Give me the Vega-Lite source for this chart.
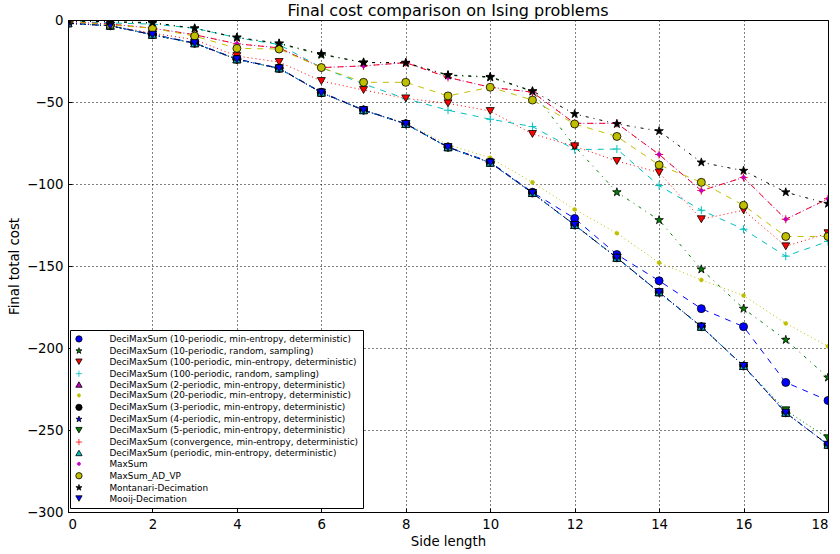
{
"$schema": "https://vega.github.io/schema/vega-lite/v6.json",
"width": 760, "height": 492,
"autosize": {"type": "none"},
"padding": {"left": 68, "top": 20, "right": 12, "bottom": 42},
"background": "white",
"title": {"text": "Final cost comparison on Ising problems", "font": "DejaVu Sans", "fontSize": 16, "fontWeight": "normal", "color": "black", "offset": -6, "anchor": "middle"},
"config": {
  "view": {"stroke": "black", "strokeWidth": 1},
  "axis": {"labelFont": "DejaVu Sans", "labelFontSize": 13.3, "labelColor": "black", "titleFont": "DejaVu Sans", "titleFontSize": 13.3, "titleFontWeight": "normal", "titleColor": "black", "domain": false, "grid": true, "gridColor": "black", "gridDash": [1, 3], "gridOpacity": 1, "gridWidth": 1, "ticks": true, "tickColor": "black", "tickSize": -4, "labelPadding": 9}
},
"data": {"values": [
{"series":"DeciMaxSum (10-periodic, min-entropy, deterministic)","x":0,"y":-2},{"series":"DeciMaxSum (10-periodic, min-entropy, deterministic)","x":1,"y":-3.5},{"series":"DeciMaxSum (10-periodic, min-entropy, deterministic)","x":2,"y":-8.8},{"series":"DeciMaxSum (10-periodic, min-entropy, deterministic)","x":3,"y":-14},{"series":"DeciMaxSum (10-periodic, min-entropy, deterministic)","x":4,"y":-23.8},{"series":"DeciMaxSum (10-periodic, min-entropy, deterministic)","x":5,"y":-29.3},{"series":"DeciMaxSum (10-periodic, min-entropy, deterministic)","x":6,"y":-44},{"series":"DeciMaxSum (10-periodic, min-entropy, deterministic)","x":7,"y":-54.8},{"series":"DeciMaxSum (10-periodic, min-entropy, deterministic)","x":8,"y":-63.2},{"series":"DeciMaxSum (10-periodic, min-entropy, deterministic)","x":9,"y":-77.4},{"series":"DeciMaxSum (10-periodic, min-entropy, deterministic)","x":10,"y":-86.6},{"series":"DeciMaxSum (10-periodic, min-entropy, deterministic)","x":11,"y":-105},{"series":"DeciMaxSum (10-periodic, min-entropy, deterministic)","x":12,"y":-121},{"series":"DeciMaxSum (10-periodic, min-entropy, deterministic)","x":13,"y":-143},{"series":"DeciMaxSum (10-periodic, min-entropy, deterministic)","x":14,"y":-159},{"series":"DeciMaxSum (10-periodic, min-entropy, deterministic)","x":15,"y":-176},{"series":"DeciMaxSum (10-periodic, min-entropy, deterministic)","x":16,"y":-187},{"series":"DeciMaxSum (10-periodic, min-entropy, deterministic)","x":17,"y":-221},{"series":"DeciMaxSum (10-periodic, min-entropy, deterministic)","x":18,"y":-232},
{"series":"DeciMaxSum (10-periodic, random, sampling)","x":0,"y":-0.8},{"series":"DeciMaxSum (10-periodic, random, sampling)","x":1,"y":-1.2},{"series":"DeciMaxSum (10-periodic, random, sampling)","x":2,"y":-2},{"series":"DeciMaxSum (10-periodic, random, sampling)","x":3,"y":-5.2},{"series":"DeciMaxSum (10-periodic, random, sampling)","x":4,"y":-10.8},{"series":"DeciMaxSum (10-periodic, random, sampling)","x":5,"y":-14.5},{"series":"DeciMaxSum (10-periodic, random, sampling)","x":6,"y":-21.2},{"series":"DeciMaxSum (10-periodic, random, sampling)","x":7,"y":-25.8},{"series":"DeciMaxSum (10-periodic, random, sampling)","x":8,"y":-26.3},{"series":"DeciMaxSum (10-periodic, random, sampling)","x":9,"y":-33.8},{"series":"DeciMaxSum (10-periodic, random, sampling)","x":10,"y":-35},{"series":"DeciMaxSum (10-periodic, random, sampling)","x":11,"y":-43.6},{"series":"DeciMaxSum (10-periodic, random, sampling)","x":12,"y":-77},{"series":"DeciMaxSum (10-periodic, random, sampling)","x":13,"y":-105},{"series":"DeciMaxSum (10-periodic, random, sampling)","x":14,"y":-122},{"series":"DeciMaxSum (10-periodic, random, sampling)","x":15,"y":-152},{"series":"DeciMaxSum (10-periodic, random, sampling)","x":16,"y":-176},{"series":"DeciMaxSum (10-periodic, random, sampling)","x":17,"y":-195},{"series":"DeciMaxSum (10-periodic, random, sampling)","x":18,"y":-218},
{"series":"DeciMaxSum (100-periodic, min-entropy, deterministic)","x":0,"y":-1.5},{"series":"DeciMaxSum (100-periodic, min-entropy, deterministic)","x":1,"y":-3.5},{"series":"DeciMaxSum (100-periodic, min-entropy, deterministic)","x":2,"y":-8},{"series":"DeciMaxSum (100-periodic, min-entropy, deterministic)","x":3,"y":-12},{"series":"DeciMaxSum (100-periodic, min-entropy, deterministic)","x":4,"y":-22},{"series":"DeciMaxSum (100-periodic, min-entropy, deterministic)","x":5,"y":-25.6},{"series":"DeciMaxSum (100-periodic, min-entropy, deterministic)","x":6,"y":-37.2},{"series":"DeciMaxSum (100-periodic, min-entropy, deterministic)","x":7,"y":-42.7},{"series":"DeciMaxSum (100-periodic, min-entropy, deterministic)","x":8,"y":-47.8},{"series":"DeciMaxSum (100-periodic, min-entropy, deterministic)","x":9,"y":-50.8},{"series":"DeciMaxSum (100-periodic, min-entropy, deterministic)","x":10,"y":-55.5},{"series":"DeciMaxSum (100-periodic, min-entropy, deterministic)","x":11,"y":-69.5},{"series":"DeciMaxSum (100-periodic, min-entropy, deterministic)","x":12,"y":-77},{"series":"DeciMaxSum (100-periodic, min-entropy, deterministic)","x":13,"y":-86},{"series":"DeciMaxSum (100-periodic, min-entropy, deterministic)","x":14,"y":-93},{"series":"DeciMaxSum (100-periodic, min-entropy, deterministic)","x":15,"y":-121.5},{"series":"DeciMaxSum (100-periodic, min-entropy, deterministic)","x":16,"y":-116},{"series":"DeciMaxSum (100-periodic, min-entropy, deterministic)","x":17,"y":-138},{"series":"DeciMaxSum (100-periodic, min-entropy, deterministic)","x":18,"y":-130},
{"series":"DeciMaxSum (100-periodic, random, sampling)","x":0,"y":-0.8},{"series":"DeciMaxSum (100-periodic, random, sampling)","x":1,"y":-1.8},{"series":"DeciMaxSum (100-periodic, random, sampling)","x":2,"y":-2.5},{"series":"DeciMaxSum (100-periodic, random, sampling)","x":3,"y":-5},{"series":"DeciMaxSum (100-periodic, random, sampling)","x":4,"y":-10.8},{"series":"DeciMaxSum (100-periodic, random, sampling)","x":5,"y":-15},{"series":"DeciMaxSum (100-periodic, random, sampling)","x":6,"y":-29},{"series":"DeciMaxSum (100-periodic, random, sampling)","x":7,"y":-39},{"series":"DeciMaxSum (100-periodic, random, sampling)","x":8,"y":-48},{"series":"DeciMaxSum (100-periodic, random, sampling)","x":9,"y":-55},{"series":"DeciMaxSum (100-periodic, random, sampling)","x":10,"y":-60.5},{"series":"DeciMaxSum (100-periodic, random, sampling)","x":11,"y":-65},{"series":"DeciMaxSum (100-periodic, random, sampling)","x":12,"y":-79},{"series":"DeciMaxSum (100-periodic, random, sampling)","x":13,"y":-78.7},{"series":"DeciMaxSum (100-periodic, random, sampling)","x":14,"y":-101},{"series":"DeciMaxSum (100-periodic, random, sampling)","x":15,"y":-116},{"series":"DeciMaxSum (100-periodic, random, sampling)","x":16,"y":-127.6},{"series":"DeciMaxSum (100-periodic, random, sampling)","x":17,"y":-144},{"series":"DeciMaxSum (100-periodic, random, sampling)","x":18,"y":-135},
{"series":"DeciMaxSum (2-periodic, min-entropy, deterministic)","x":0,"y":-2},{"series":"DeciMaxSum (2-periodic, min-entropy, deterministic)","x":1,"y":-3.5},{"series":"DeciMaxSum (2-periodic, min-entropy, deterministic)","x":2,"y":-9},{"series":"DeciMaxSum (2-periodic, min-entropy, deterministic)","x":3,"y":-14.2},{"series":"DeciMaxSum (2-periodic, min-entropy, deterministic)","x":4,"y":-24},{"series":"DeciMaxSum (2-periodic, min-entropy, deterministic)","x":5,"y":-29.5},{"series":"DeciMaxSum (2-periodic, min-entropy, deterministic)","x":6,"y":-44.3},{"series":"DeciMaxSum (2-periodic, min-entropy, deterministic)","x":7,"y":-55},{"series":"DeciMaxSum (2-periodic, min-entropy, deterministic)","x":8,"y":-63.4},{"series":"DeciMaxSum (2-periodic, min-entropy, deterministic)","x":9,"y":-77.6},{"series":"DeciMaxSum (2-periodic, min-entropy, deterministic)","x":10,"y":-87},{"series":"DeciMaxSum (2-periodic, min-entropy, deterministic)","x":11,"y":-105.5},{"series":"DeciMaxSum (2-periodic, min-entropy, deterministic)","x":12,"y":-125},{"series":"DeciMaxSum (2-periodic, min-entropy, deterministic)","x":13,"y":-145},{"series":"DeciMaxSum (2-periodic, min-entropy, deterministic)","x":14,"y":-166},{"series":"DeciMaxSum (2-periodic, min-entropy, deterministic)","x":15,"y":-187},{"series":"DeciMaxSum (2-periodic, min-entropy, deterministic)","x":16,"y":-211},{"series":"DeciMaxSum (2-periodic, min-entropy, deterministic)","x":17,"y":-239.5},{"series":"DeciMaxSum (2-periodic, min-entropy, deterministic)","x":18,"y":-259},
{"series":"DeciMaxSum (20-periodic, min-entropy, deterministic)","x":0,"y":-2},{"series":"DeciMaxSum (20-periodic, min-entropy, deterministic)","x":1,"y":-3.5},{"series":"DeciMaxSum (20-periodic, min-entropy, deterministic)","x":2,"y":-9},{"series":"DeciMaxSum (20-periodic, min-entropy, deterministic)","x":3,"y":-14.2},{"series":"DeciMaxSum (20-periodic, min-entropy, deterministic)","x":4,"y":-24},{"series":"DeciMaxSum (20-periodic, min-entropy, deterministic)","x":5,"y":-29.5},{"series":"DeciMaxSum (20-periodic, min-entropy, deterministic)","x":6,"y":-44.3},{"series":"DeciMaxSum (20-periodic, min-entropy, deterministic)","x":7,"y":-55},{"series":"DeciMaxSum (20-periodic, min-entropy, deterministic)","x":8,"y":-63},{"series":"DeciMaxSum (20-periodic, min-entropy, deterministic)","x":9,"y":-76},{"series":"DeciMaxSum (20-periodic, min-entropy, deterministic)","x":10,"y":-84},{"series":"DeciMaxSum (20-periodic, min-entropy, deterministic)","x":11,"y":-99},{"series":"DeciMaxSum (20-periodic, min-entropy, deterministic)","x":12,"y":-115.5},{"series":"DeciMaxSum (20-periodic, min-entropy, deterministic)","x":13,"y":-130},{"series":"DeciMaxSum (20-periodic, min-entropy, deterministic)","x":14,"y":-148},{"series":"DeciMaxSum (20-periodic, min-entropy, deterministic)","x":15,"y":-158.5},{"series":"DeciMaxSum (20-periodic, min-entropy, deterministic)","x":16,"y":-168},{"series":"DeciMaxSum (20-periodic, min-entropy, deterministic)","x":17,"y":-185},{"series":"DeciMaxSum (20-periodic, min-entropy, deterministic)","x":18,"y":-199},
{"series":"DeciMaxSum (3-periodic, min-entropy, deterministic)","x":0,"y":-2},{"series":"DeciMaxSum (3-periodic, min-entropy, deterministic)","x":1,"y":-3.5},{"series":"DeciMaxSum (3-periodic, min-entropy, deterministic)","x":2,"y":-9},{"series":"DeciMaxSum (3-periodic, min-entropy, deterministic)","x":3,"y":-14.2},{"series":"DeciMaxSum (3-periodic, min-entropy, deterministic)","x":4,"y":-24},{"series":"DeciMaxSum (3-periodic, min-entropy, deterministic)","x":5,"y":-29.5},{"series":"DeciMaxSum (3-periodic, min-entropy, deterministic)","x":6,"y":-44.3},{"series":"DeciMaxSum (3-periodic, min-entropy, deterministic)","x":7,"y":-55},{"series":"DeciMaxSum (3-periodic, min-entropy, deterministic)","x":8,"y":-63.4},{"series":"DeciMaxSum (3-periodic, min-entropy, deterministic)","x":9,"y":-77.6},{"series":"DeciMaxSum (3-periodic, min-entropy, deterministic)","x":10,"y":-87},{"series":"DeciMaxSum (3-periodic, min-entropy, deterministic)","x":11,"y":-105.5},{"series":"DeciMaxSum (3-periodic, min-entropy, deterministic)","x":12,"y":-125},{"series":"DeciMaxSum (3-periodic, min-entropy, deterministic)","x":13,"y":-145},{"series":"DeciMaxSum (3-periodic, min-entropy, deterministic)","x":14,"y":-166},{"series":"DeciMaxSum (3-periodic, min-entropy, deterministic)","x":15,"y":-187},{"series":"DeciMaxSum (3-periodic, min-entropy, deterministic)","x":16,"y":-211},{"series":"DeciMaxSum (3-periodic, min-entropy, deterministic)","x":17,"y":-239.5},{"series":"DeciMaxSum (3-periodic, min-entropy, deterministic)","x":18,"y":-259},
{"series":"DeciMaxSum (4-periodic, min-entropy, deterministic)","x":0,"y":-2},{"series":"DeciMaxSum (4-periodic, min-entropy, deterministic)","x":1,"y":-3.5},{"series":"DeciMaxSum (4-periodic, min-entropy, deterministic)","x":2,"y":-9},{"series":"DeciMaxSum (4-periodic, min-entropy, deterministic)","x":3,"y":-14.2},{"series":"DeciMaxSum (4-periodic, min-entropy, deterministic)","x":4,"y":-24},{"series":"DeciMaxSum (4-periodic, min-entropy, deterministic)","x":5,"y":-29.5},{"series":"DeciMaxSum (4-periodic, min-entropy, deterministic)","x":6,"y":-44.3},{"series":"DeciMaxSum (4-periodic, min-entropy, deterministic)","x":7,"y":-55},{"series":"DeciMaxSum (4-periodic, min-entropy, deterministic)","x":8,"y":-63.4},{"series":"DeciMaxSum (4-periodic, min-entropy, deterministic)","x":9,"y":-77.6},{"series":"DeciMaxSum (4-periodic, min-entropy, deterministic)","x":10,"y":-87},{"series":"DeciMaxSum (4-periodic, min-entropy, deterministic)","x":11,"y":-105.5},{"series":"DeciMaxSum (4-periodic, min-entropy, deterministic)","x":12,"y":-125},{"series":"DeciMaxSum (4-periodic, min-entropy, deterministic)","x":13,"y":-145},{"series":"DeciMaxSum (4-periodic, min-entropy, deterministic)","x":14,"y":-166},{"series":"DeciMaxSum (4-periodic, min-entropy, deterministic)","x":15,"y":-187},{"series":"DeciMaxSum (4-periodic, min-entropy, deterministic)","x":16,"y":-211},{"series":"DeciMaxSum (4-periodic, min-entropy, deterministic)","x":17,"y":-239.5},{"series":"DeciMaxSum (4-periodic, min-entropy, deterministic)","x":18,"y":-259},
{"series":"DeciMaxSum (5-periodic, min-entropy, deterministic)","x":0,"y":-2},{"series":"DeciMaxSum (5-periodic, min-entropy, deterministic)","x":1,"y":-3.5},{"series":"DeciMaxSum (5-periodic, min-entropy, deterministic)","x":2,"y":-9},{"series":"DeciMaxSum (5-periodic, min-entropy, deterministic)","x":3,"y":-14.2},{"series":"DeciMaxSum (5-periodic, min-entropy, deterministic)","x":4,"y":-24},{"series":"DeciMaxSum (5-periodic, min-entropy, deterministic)","x":5,"y":-29.5},{"series":"DeciMaxSum (5-periodic, min-entropy, deterministic)","x":6,"y":-44.3},{"series":"DeciMaxSum (5-periodic, min-entropy, deterministic)","x":7,"y":-55},{"series":"DeciMaxSum (5-periodic, min-entropy, deterministic)","x":8,"y":-63.4},{"series":"DeciMaxSum (5-periodic, min-entropy, deterministic)","x":9,"y":-77.6},{"series":"DeciMaxSum (5-periodic, min-entropy, deterministic)","x":10,"y":-87},{"series":"DeciMaxSum (5-periodic, min-entropy, deterministic)","x":11,"y":-105.5},{"series":"DeciMaxSum (5-periodic, min-entropy, deterministic)","x":12,"y":-125},{"series":"DeciMaxSum (5-periodic, min-entropy, deterministic)","x":13,"y":-145},{"series":"DeciMaxSum (5-periodic, min-entropy, deterministic)","x":14,"y":-166},{"series":"DeciMaxSum (5-periodic, min-entropy, deterministic)","x":15,"y":-187},{"series":"DeciMaxSum (5-periodic, min-entropy, deterministic)","x":16,"y":-211},{"series":"DeciMaxSum (5-periodic, min-entropy, deterministic)","x":17,"y":-238},{"series":"DeciMaxSum (5-periodic, min-entropy, deterministic)","x":18,"y":-255},
{"series":"DeciMaxSum (convergence, min-entropy, deterministic)","x":0,"y":-1},{"series":"DeciMaxSum (convergence, min-entropy, deterministic)","x":1,"y":-2.5},{"series":"DeciMaxSum (convergence, min-entropy, deterministic)","x":2,"y":-5},{"series":"DeciMaxSum (convergence, min-entropy, deterministic)","x":3,"y":-9},{"series":"DeciMaxSum (convergence, min-entropy, deterministic)","x":4,"y":-14.5},{"series":"DeciMaxSum (convergence, min-entropy, deterministic)","x":5,"y":-17},{"series":"DeciMaxSum (convergence, min-entropy, deterministic)","x":6,"y":-29},{"series":"DeciMaxSum (convergence, min-entropy, deterministic)","x":7,"y":-28},{"series":"DeciMaxSum (convergence, min-entropy, deterministic)","x":8,"y":-26},{"series":"DeciMaxSum (convergence, min-entropy, deterministic)","x":9,"y":-35},{"series":"DeciMaxSum (convergence, min-entropy, deterministic)","x":10,"y":-41},{"series":"DeciMaxSum (convergence, min-entropy, deterministic)","x":11,"y":-44},{"series":"DeciMaxSum (convergence, min-entropy, deterministic)","x":12,"y":-63},{"series":"DeciMaxSum (convergence, min-entropy, deterministic)","x":13,"y":-63},{"series":"DeciMaxSum (convergence, min-entropy, deterministic)","x":14,"y":-82},{"series":"DeciMaxSum (convergence, min-entropy, deterministic)","x":15,"y":-104},{"series":"DeciMaxSum (convergence, min-entropy, deterministic)","x":16,"y":-96},{"series":"DeciMaxSum (convergence, min-entropy, deterministic)","x":17,"y":-121.5},{"series":"DeciMaxSum (convergence, min-entropy, deterministic)","x":18,"y":-109},
{"series":"DeciMaxSum (periodic, min-entropy, deterministic)","x":0,"y":-2},{"series":"DeciMaxSum (periodic, min-entropy, deterministic)","x":1,"y":-3.5},{"series":"DeciMaxSum (periodic, min-entropy, deterministic)","x":2,"y":-9},{"series":"DeciMaxSum (periodic, min-entropy, deterministic)","x":3,"y":-14.2},{"series":"DeciMaxSum (periodic, min-entropy, deterministic)","x":4,"y":-24},{"series":"DeciMaxSum (periodic, min-entropy, deterministic)","x":5,"y":-29.5},{"series":"DeciMaxSum (periodic, min-entropy, deterministic)","x":6,"y":-44.3},{"series":"DeciMaxSum (periodic, min-entropy, deterministic)","x":7,"y":-55},{"series":"DeciMaxSum (periodic, min-entropy, deterministic)","x":8,"y":-63.4},{"series":"DeciMaxSum (periodic, min-entropy, deterministic)","x":9,"y":-77.6},{"series":"DeciMaxSum (periodic, min-entropy, deterministic)","x":10,"y":-87},{"series":"DeciMaxSum (periodic, min-entropy, deterministic)","x":11,"y":-105.5},{"series":"DeciMaxSum (periodic, min-entropy, deterministic)","x":12,"y":-125},{"series":"DeciMaxSum (periodic, min-entropy, deterministic)","x":13,"y":-145},{"series":"DeciMaxSum (periodic, min-entropy, deterministic)","x":14,"y":-166},{"series":"DeciMaxSum (periodic, min-entropy, deterministic)","x":15,"y":-187},{"series":"DeciMaxSum (periodic, min-entropy, deterministic)","x":16,"y":-211},{"series":"DeciMaxSum (periodic, min-entropy, deterministic)","x":17,"y":-239.5},{"series":"DeciMaxSum (periodic, min-entropy, deterministic)","x":18,"y":-259},
{"series":"MaxSum","x":0,"y":-1},{"series":"MaxSum","x":1,"y":-2.5},{"series":"MaxSum","x":2,"y":-5},{"series":"MaxSum","x":3,"y":-9},{"series":"MaxSum","x":4,"y":-14.5},{"series":"MaxSum","x":5,"y":-17},{"series":"MaxSum","x":6,"y":-29},{"series":"MaxSum","x":7,"y":-28},{"series":"MaxSum","x":8,"y":-26},{"series":"MaxSum","x":9,"y":-35},{"series":"MaxSum","x":10,"y":-41},{"series":"MaxSum","x":11,"y":-44},{"series":"MaxSum","x":12,"y":-63},{"series":"MaxSum","x":13,"y":-63},{"series":"MaxSum","x":14,"y":-82},{"series":"MaxSum","x":15,"y":-104},{"series":"MaxSum","x":16,"y":-96},{"series":"MaxSum","x":17,"y":-121.5},{"series":"MaxSum","x":18,"y":-109},
{"series":"MaxSum_AD_VP","x":0,"y":-1},{"series":"MaxSum_AD_VP","x":1,"y":-3},{"series":"MaxSum_AD_VP","x":2,"y":-5},{"series":"MaxSum_AD_VP","x":3,"y":-9.8},{"series":"MaxSum_AD_VP","x":4,"y":-17.3},{"series":"MaxSum_AD_VP","x":5,"y":-17.7},{"series":"MaxSum_AD_VP","x":6,"y":-29},{"series":"MaxSum_AD_VP","x":7,"y":-38},{"series":"MaxSum_AD_VP","x":8,"y":-38},{"series":"MaxSum_AD_VP","x":9,"y":-46.3},{"series":"MaxSum_AD_VP","x":10,"y":-41},{"series":"MaxSum_AD_VP","x":11,"y":-48.8},{"series":"MaxSum_AD_VP","x":12,"y":-63.4},{"series":"MaxSum_AD_VP","x":13,"y":-71},{"series":"MaxSum_AD_VP","x":14,"y":-88.4},{"series":"MaxSum_AD_VP","x":15,"y":-99},{"series":"MaxSum_AD_VP","x":16,"y":-113},{"series":"MaxSum_AD_VP","x":17,"y":-132},{"series":"MaxSum_AD_VP","x":18,"y":-132},
{"series":"Montanari-Decimation","x":0,"y":-0.6},{"series":"Montanari-Decimation","x":1,"y":-1},{"series":"Montanari-Decimation","x":2,"y":-1.6},{"series":"Montanari-Decimation","x":3,"y":-5},{"series":"Montanari-Decimation","x":4,"y":-10.6},{"series":"Montanari-Decimation","x":5,"y":-14.2},{"series":"Montanari-Decimation","x":6,"y":-20.7},{"series":"Montanari-Decimation","x":7,"y":-26},{"series":"Montanari-Decimation","x":8,"y":-26},{"series":"Montanari-Decimation","x":9,"y":-33.5},{"series":"Montanari-Decimation","x":10,"y":-34.6},{"series":"Montanari-Decimation","x":11,"y":-43.3},{"series":"Montanari-Decimation","x":12,"y":-57.3},{"series":"Montanari-Decimation","x":13,"y":-63.4},{"series":"Montanari-Decimation","x":14,"y":-67.7},{"series":"Montanari-Decimation","x":15,"y":-86.8},{"series":"Montanari-Decimation","x":16,"y":-91.9},{"series":"Montanari-Decimation","x":17,"y":-105},{"series":"Montanari-Decimation","x":18,"y":-112},
{"series":"Mooij-Decimation","x":0,"y":-2},{"series":"Mooij-Decimation","x":1,"y":-3.5},{"series":"Mooij-Decimation","x":2,"y":-9},{"series":"Mooij-Decimation","x":3,"y":-14.2},{"series":"Mooij-Decimation","x":4,"y":-24},{"series":"Mooij-Decimation","x":5,"y":-29.5},{"series":"Mooij-Decimation","x":6,"y":-44.3},{"series":"Mooij-Decimation","x":7,"y":-55},{"series":"Mooij-Decimation","x":8,"y":-63.4},{"series":"Mooij-Decimation","x":9,"y":-77.6},{"series":"Mooij-Decimation","x":10,"y":-87},{"series":"Mooij-Decimation","x":11,"y":-105.5},{"series":"Mooij-Decimation","x":12,"y":-125},{"series":"Mooij-Decimation","x":13,"y":-145},{"series":"Mooij-Decimation","x":14,"y":-166},{"series":"Mooij-Decimation","x":15,"y":-187},{"series":"Mooij-Decimation","x":16,"y":-211},{"series":"Mooij-Decimation","x":17,"y":-239.5},{"series":"Mooij-Decimation","x":18,"y":-259}
]},
"encoding": {
  "x": {"field": "x", "type": "quantitative", "scale": {"domain": [0, 18], "nice": false, "zero": false}, "axis": {"values": [0, 2, 4, 6, 8, 10, 12, 14, 16, 18], "title": "Side length", "titlePadding": 4}},
  "y": {"field": "y", "type": "quantitative", "scale": {"domain": [-300, 0], "nice": false}, "axis": {"values": [-300, -250, -200, -150, -100, -50, 0], "title": "Final total cost", "titlePadding": 5}}
},
"layer": [
  {"mark": {"type": "line", "strokeWidth": 1, "clip": true},
   "encoding": {
     "color": {"field": "series", "type": "nominal", "legend": null, "scale": {"range": ["#0000ff","#008000","#ff0000","#00bfbf","#bf00bf","#bfbf00","#000000","#0000ff","#008000","#ff0000","#00bfbf","#bf00bf","#bfbf00","#000000","#0000ff"]}},
     "strokeDash": {"field": "series", "type": "nominal", "legend": null, "scale": {"range": [[6,6],[3,5,1,5],[1,3],[6,6],[3,5,1,5],[1,3],[6,6],[3,5,1,5],[1,3],[6,6],[3,5,1,5],[1,3],[6,6],[3,5,1,5],[1,3]]}}
   }},
  {"transform": [{"filter": {"field": "series", "oneOf": ["DeciMaxSum (10-periodic, random, sampling)", "DeciMaxSum (4-periodic, min-entropy, deterministic)"]}}],
   "mark": {"type": "point", "filled": true, "opacity": 1, "strokeWidth": 0.8, "size": 80, "clip": true},
   "encoding": {
     "fill": {"field": "series", "type": "nominal", "scale": {"domain": ["DeciMaxSum (10-periodic, min-entropy, deterministic)","DeciMaxSum (10-periodic, random, sampling)","DeciMaxSum (100-periodic, min-entropy, deterministic)","DeciMaxSum (100-periodic, random, sampling)","DeciMaxSum (2-periodic, min-entropy, deterministic)","DeciMaxSum (20-periodic, min-entropy, deterministic)","DeciMaxSum (3-periodic, min-entropy, deterministic)","DeciMaxSum (4-periodic, min-entropy, deterministic)","DeciMaxSum (5-periodic, min-entropy, deterministic)","DeciMaxSum (convergence, min-entropy, deterministic)","DeciMaxSum (periodic, min-entropy, deterministic)","MaxSum","MaxSum_AD_VP","Montanari-Decimation","Mooij-Decimation"], "range": ["#0000ff","#008000","#ff0000","#00bfbf","#bf00bf","#bfbf00","#000000","#0000ff","#008000","#ff0000","#00bfbf","#bf00bf","#bfbf00","#000000","#0000ff"]},
       "legend": {"title": null, "orient": "none", "legendX": 2, "legendY": 310, "fillColor": "white", "strokeColor": "black", "padding": 4.5, "cornerRadius": 0, "labelFont": "DejaVu Sans", "labelFontSize": 8.9, "labelColor": "black", "labelLimit": 400, "symbolSize": 40, "symbolStrokeWidth": 0.8, "labelOffset": 26, "rowPadding": 0.9}},
     "shape": {"field": "series", "type": "nominal", "scale": {"domain": ["DeciMaxSum (10-periodic, min-entropy, deterministic)","DeciMaxSum (10-periodic, random, sampling)","DeciMaxSum (100-periodic, min-entropy, deterministic)","DeciMaxSum (100-periodic, random, sampling)","DeciMaxSum (2-periodic, min-entropy, deterministic)","DeciMaxSum (20-periodic, min-entropy, deterministic)","DeciMaxSum (3-periodic, min-entropy, deterministic)","DeciMaxSum (4-periodic, min-entropy, deterministic)","DeciMaxSum (5-periodic, min-entropy, deterministic)","DeciMaxSum (convergence, min-entropy, deterministic)","DeciMaxSum (periodic, min-entropy, deterministic)","MaxSum","MaxSum_AD_VP","Montanari-Decimation","Mooij-Decimation"], "range": ["circle","M0,-1L0.2245,-0.309L0.951,-0.309L0.363,0.118L0.588,0.809L0,0.382L-0.588,0.809L-0.363,0.118L-0.951,-0.309L-0.2245,-0.309Z","triangle-down","M-1,0L1,0M0,-1L0,1","triangle-up","M-0.5,0A0.5,0.5 0 1,0 0.5,0A0.5,0.5 0 1,0 -0.5,0Z","circle","M0,-1L0.2245,-0.309L0.951,-0.309L0.363,0.118L0.588,0.809L0,0.382L-0.588,0.809L-0.363,0.118L-0.951,-0.309L-0.2245,-0.309Z","triangle-down","M-1,0L1,0M0,-1L0,1","triangle-up","M-0.5,0A0.5,0.5 0 1,0 0.5,0A0.5,0.5 0 1,0 -0.5,0Z","circle","M0,-1L0.2245,-0.309L0.951,-0.309L0.363,0.118L0.588,0.809L0,0.382L-0.588,0.809L-0.363,0.118L-0.951,-0.309L-0.2245,-0.309Z","triangle-down"]}},
     "stroke": {"field": "series", "type": "nominal", "scale": {"domain": ["DeciMaxSum (10-periodic, min-entropy, deterministic)","DeciMaxSum (10-periodic, random, sampling)","DeciMaxSum (100-periodic, min-entropy, deterministic)","DeciMaxSum (100-periodic, random, sampling)","DeciMaxSum (2-periodic, min-entropy, deterministic)","DeciMaxSum (20-periodic, min-entropy, deterministic)","DeciMaxSum (3-periodic, min-entropy, deterministic)","DeciMaxSum (4-periodic, min-entropy, deterministic)","DeciMaxSum (5-periodic, min-entropy, deterministic)","DeciMaxSum (convergence, min-entropy, deterministic)","DeciMaxSum (periodic, min-entropy, deterministic)","MaxSum","MaxSum_AD_VP","Montanari-Decimation","Mooij-Decimation"], "range": ["#000000","#000000","#000000","#00bfbf","#000000","#bfbf00","#000000","#000000","#000000","#ff0000","#000000","#bf00bf","#000000","#000000","#000000"]}}
   }},
  {"transform": [{"filter": {"field": "series", "oneOf": ["DeciMaxSum (100-periodic, random, sampling)", "DeciMaxSum (convergence, min-entropy, deterministic)"]}}],
   "mark": {"type": "point", "filled": true, "opacity": 1, "strokeWidth": 1, "size": 64, "clip": true},
   "encoding": {
     "fill": {"field": "series", "type": "nominal"},
     "shape": {"field": "series", "type": "nominal"},
     "stroke": {"field": "series", "type": "nominal"}
   }},
  {"transform": [{"filter": {"field": "series", "oneOf": ["DeciMaxSum (20-periodic, min-entropy, deterministic)", "MaxSum"]}}],
   "mark": {"type": "point", "filled": true, "opacity": 1, "strokeWidth": 0.5, "size": 64, "clip": true},
   "encoding": {
     "fill": {"field": "series", "type": "nominal"},
     "shape": {"field": "series", "type": "nominal"},
     "stroke": {"field": "series", "type": "nominal"}
   }},
  {"transform": [{"filter": {"field": "series", "oneOf": ["DeciMaxSum (10-periodic, min-entropy, deterministic)", "DeciMaxSum (100-periodic, min-entropy, deterministic)", "DeciMaxSum (2-periodic, min-entropy, deterministic)", "DeciMaxSum (3-periodic, min-entropy, deterministic)", "DeciMaxSum (5-periodic, min-entropy, deterministic)", "DeciMaxSum (periodic, min-entropy, deterministic)", "MaxSum_AD_VP", "Mooij-Decimation"]}}],
   "mark": {"type": "point", "filled": true, "opacity": 1, "strokeWidth": 0.8, "size": 64, "clip": true},
   "encoding": {
     "fill": {"field": "series", "type": "nominal"},
     "shape": {"field": "series", "type": "nominal"},
     "stroke": {"field": "series", "type": "nominal"}
   }},
  {"transform": [{"filter": {"field": "series", "equal": "Montanari-Decimation"}}],
   "mark": {"type": "point", "filled": true, "opacity": 1, "strokeWidth": 0.8, "size": 80, "clip": true},
   "encoding": {
     "fill": {"field": "series", "type": "nominal"},
     "shape": {"field": "series", "type": "nominal"},
     "stroke": {"field": "series", "type": "nominal"}
   }}
]
}
